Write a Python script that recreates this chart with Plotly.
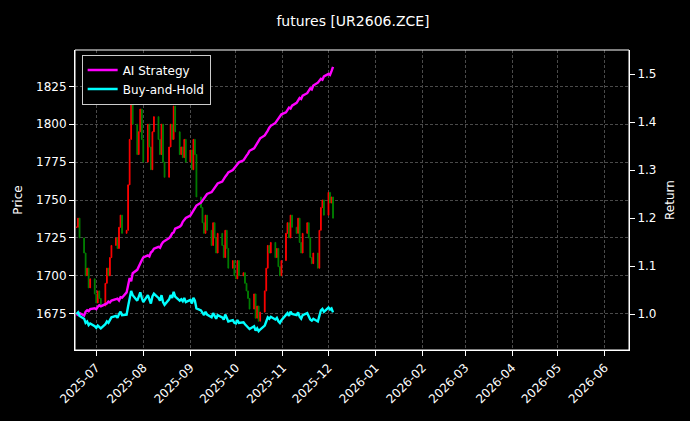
import plotly.graph_objects as go
import pandas as pd

close = [1732,1738,1725,1715,1700,1705,1692,1698,1688,
         1682,1690,1685,1680,1695,1705,1700,1712,1720,
         1725,1718,1732,1740,1728,
         1730,1760,1790,1815,1800,
         1780,1795,1810,1790,1775,1800,1785,1770,1795,1805,
         1790,1780,1800,1775,1765,1785,1800,1790,1812,1795,
         1780,1785,1778,1790,1775,1783,1770,1790,1780,1752,
         1745,1735,1728,1740,1730,1720,1735,1725,1715,1728,
         1720,1712,1730,1718,1705,1710,1700,1698,1710,1700,
         1702,1695,1690,1685,1678,1688,1672,1680,1670,1676,
         1690,1705,1720,1715,1722,1712,1718,1706,1700,1710,
         1728,1735,1725,1740,1732,1728,1738,1722,1715,1728,
         1735,1725,1712,1708,1715,1705,1730,1745,1750,1740,
         1755,1748,1752,1738]
ai = [1.000,0.998,1.002,0.997,1.005,1.008,1.006,1.010,1.012,
      1.010,1.015,1.018,1.016,1.020,1.022,1.026,1.024,1.028,
      1.030,1.032,1.028,1.035,1.034,
      1.045,1.060,1.075,1.068,1.085,
      1.092,1.100,1.108,1.112,1.118,1.122,1.120,1.128,1.131,1.136,
      1.140,1.138,1.145,1.150,1.152,1.158,1.162,1.168,1.170,1.178,
      1.182,1.185,1.192,1.196,1.200,1.205,1.210,1.214,1.220,1.226,
      1.232,1.236,1.240,1.246,1.250,1.254,1.258,1.264,1.268,1.272,
      1.276,1.282,1.286,1.290,1.295,1.300,1.304,1.308,1.312,1.316,
      1.320,1.326,1.330,1.334,1.340,1.345,1.350,1.356,1.360,1.366,
      1.372,1.376,1.382,1.388,1.392,1.398,1.402,1.408,1.410,1.416,
      1.420,1.424,1.430,1.428,1.434,1.440,1.446,1.450,1.448,1.455,
      1.460,1.466,1.470,1.468,1.476,1.482,1.486,1.490,1.488,1.495,
      1.500,1.498,1.506,1.515]

dates = pd.bdate_range("2025-06-18", periods=len(close))
opens = [close[0]] + close[:-1]
highs = [max(o, c) for o, c in zip(opens, close)]
lows = [min(o, c) for o, c in zip(opens, close)]
bh = [c / close[0] for c in close]

fig = go.Figure()
fig.add_trace(go.Candlestick(x=dates, open=opens, high=highs, low=lows, close=close,
    increasing=dict(line=dict(color="red", width=1), fillcolor="red"),
    decreasing=dict(line=dict(color="green", width=1), fillcolor="green"),
    whiskerwidth=0, showlegend=False, hoverinfo="skip"))
fig.add_trace(go.Scatter(x=dates, y=ai, yaxis="y2", mode="lines", name="AI Strategy",
                         line=dict(color="#ff00ff", width=2.4)))
fig.add_trace(go.Scatter(x=dates, y=bh, yaxis="y2", mode="lines", name="Buy-and-Hold",
                         line=dict(color="#00ffff", width=2.4)))

grid = dict(showgrid=True, gridcolor="#4a4a4a", griddash="3px,2px", gridwidth=0.6,
            linecolor="white", linewidth=1, ticks="outside", automargin=False,
            tickcolor="white", zeroline=False, tickfont=dict(color="white", size=12))
fig.update_layout(
    width=690, height=421, paper_bgcolor="black", plot_bgcolor="black",
    font=dict(family="DejaVu Sans", color="white", size=12),
    title=dict(text="futures [UR2606.ZCE]", x=0.5, xanchor="center", y=0.97, yanchor="middle",
               font=dict(size=14)),
    margin=dict(l=67, r=69, t=42, b=79),
    xaxis=dict(type="date", range=["2025-06-17", "2026-06-17"], dtick="M1",
               tick0="2025-07-01", tickformat="%Y-%m", tickangle=-45,
               rangeslider=dict(visible=False), **grid),
    yaxis=dict(range=[1651, 1849], tickvals=[1675,1700,1725,1750,1775,1800,1825],
               title=dict(text="Price", font=dict(size=12), standoff=10), **grid),
    yaxis2=dict(overlaying="y", side="right", range=[0.925, 1.55], automargin=False,
                tickvals=[1.0,1.1,1.2,1.3,1.4,1.5], tickformat=".1f", showgrid=False,
                title=dict(text="Return", font=dict(size=12), standoff=10),
                linecolor="white", linewidth=1, ticks="outside", tickcolor="white", zeroline=False),
    legend=dict(x=0.012, y=0.985, xanchor="left", yanchor="top", bgcolor="black",
                bordercolor="#ccc", borderwidth=1, font=dict(size=12)),
    shapes=[dict(type="rect", xref="paper", yref="paper", x0=0, x1=1, y0=0, y1=1,
                 line=dict(color="white", width=1))],
)
fig.write_html("out.html", post_script="document.body.style.background='black';")
